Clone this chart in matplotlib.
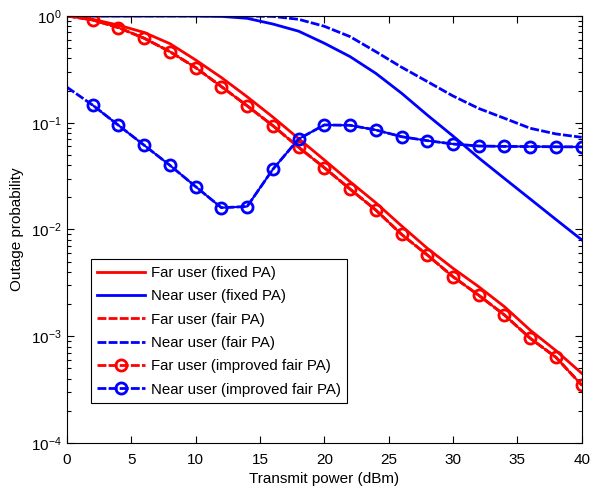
import numpy as np
import matplotlib
matplotlib.use("Agg")
import matplotlib.pyplot as plt
import matplotlib.lines as mlines
from matplotlib.ticker import LogLocator, NullFormatter

plt.rcParams['font.family'] = ['Liberation Sans', 'DejaVu Sans']

x = [0, 2, 4, 6, 8, 10, 12, 14, 16, 18, 20, 22, 24, 26, 28, 30, 32, 34, 36, 38, 40]

far_fixed = [1.0, 0.93, 0.82, 0.70, 0.55, 0.387, 0.265, 0.175, 0.113, 0.071, 0.0448, 0.028,
             0.0178, 0.0108, 0.00667, 0.00433, 0.00291, 0.00189, 0.00114, 0.000733, 0.00045]
near_fixed = [1.0, 1.0, 1.0, 1.0, 1.0, 0.998, 0.99, 0.95, 0.84, 0.72, 0.555, 0.416,
              0.290, 0.189, 0.118, 0.075, 0.0468, 0.030, 0.0193, 0.0124, 0.008]
far_fair = [1.0, 0.917, 0.777, 0.618, 0.463, 0.328, 0.218, 0.144, 0.0938, 0.0589, 0.0379, 0.0239,
            0.0152, 0.0090, 0.00577, 0.00361, 0.00242, 0.00158, 0.000957, 0.000635, 0.000349]
near_fair = [1.0, 1.0, 1.0, 1.0, 1.0, 1.0, 1.0, 0.998, 0.99, 0.93, 0.80, 0.64,
             0.463, 0.331, 0.243, 0.178, 0.136, 0.110, 0.0887, 0.0785, 0.073]
far_impr = far_fair
near_impr = [0.215, 0.146, 0.0946, 0.0615, 0.0399, 0.0252, 0.016, 0.0164, 0.0366, 0.0704, 0.0953, 0.0946,
             0.0855, 0.074, 0.0679, 0.0632, 0.0605, 0.060, 0.0598, 0.0595, 0.0593]

labels = ['Far user (fixed PA)', 'Near user (fixed PA)', 'Far user (fair PA)',
          'Near user (fair PA)', 'Far user (improved fair PA)', 'Near user (improved fair PA)']

red = (1, 0, 0)
blue = (0, 0, 1)
dash = (3.2, 0.8)

fig = plt.figure(figsize=(5.98, 4.92), dpi=100)
ax = fig.add_axes([0.112, 0.0996, 0.8607, 0.868])

lw = 2.0
ax.plot(x, far_fixed, '-', color=red, lw=lw, label=labels[0])
ax.plot(x, near_fixed, '-', color=blue, lw=lw, label=labels[1])
ax.plot(x, far_fair, color=red, lw=lw, dashes=dash, label=labels[2])
ax.plot(x, near_fair, color=blue, lw=lw, dashes=dash, label=labels[3])
ax.plot(x, far_impr, color=red, lw=lw, dashes=dash, label='_nolegend_')
ax.plot(x[1:], far_impr[1:], 'none', color=red, marker='o', ms=8, mfc='none', mew=2)
ax.plot(x, near_impr, color=blue, lw=lw, dashes=dash, label='_nolegend_')
ax.plot(x[1:], near_impr[1:], 'none', color=blue, marker='o', ms=8, mfc='none', mew=2)

h, l = ax.get_legend_handles_labels()
hr = mlines.Line2D([], [], color=red, lw=lw, dashes=dash, marker='o', ms=8, mfc='none', mew=2)
hb = mlines.Line2D([], [], color=blue, lw=lw, dashes=dash, marker='o', ms=8, mfc='none', mew=2)
h += [hr, hb]
l += [labels[4], labels[5]]

ax.set_yscale('log')
ax.set_xlim(0, 40)
ax.set_ylim(1e-4, 1)
ax.set_xticks([0, 5, 10, 15, 20, 25, 30, 35, 40])
ax.yaxis.set_major_locator(LogLocator(base=10, numticks=10))
ax.yaxis.set_minor_locator(LogLocator(base=10, subs=np.arange(2, 10), numticks=20))
ax.yaxis.set_minor_formatter(NullFormatter())
ax.tick_params(which='both', direction='in', top=True, right=True, labelsize=11)
ax.tick_params(which='major', length=5, width=0.8)
ax.tick_params(which='minor', length=3, width=0.8)
ax.tick_params(axis='x', pad=7)
ax.tick_params(axis='y', pad=4)
for s in ax.spines.values():
    s.set_linewidth(0.8)

ax.set_xlabel('Transmit power (dBm)', fontsize=11, labelpad=4)
ax.set_ylabel('Outage probability', fontsize=11, labelpad=5)

leg = ax.legend(h, l, loc='lower left', bbox_to_anchor=(0.046, 0.093), fontsize=10.8,
                fancybox=False, edgecolor='black', framealpha=1, handlelength=3.2,
                handletextpad=0.35, labelspacing=0.62, borderpad=0.45, borderaxespad=0)
leg.get_frame().set_linewidth(0.8)

fig.savefig('out.png', dpi=100)
